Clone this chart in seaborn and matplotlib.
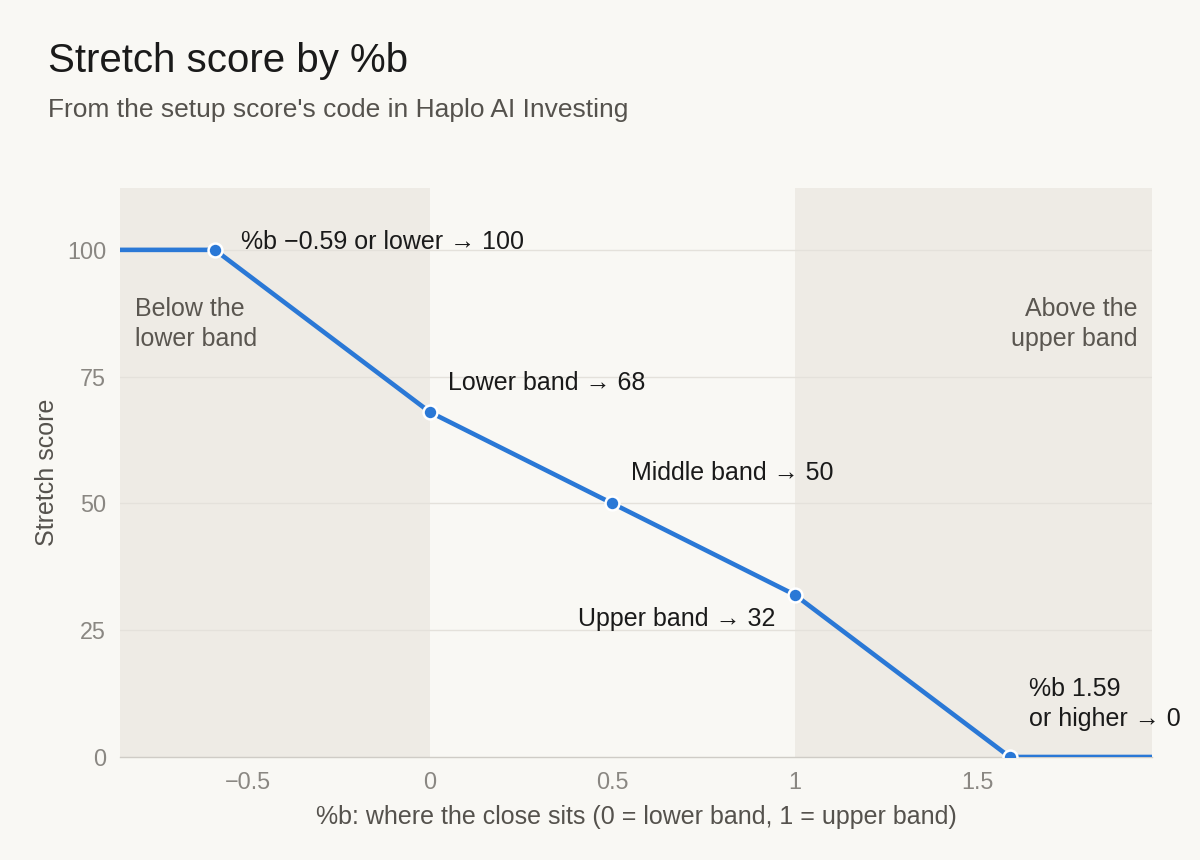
import matplotlib
matplotlib.use("Agg")
import matplotlib.pyplot as plt
import pandas as pd
import seaborn as sns

# %b breakpoints and resulting stretch score
pct_b = [-0.85, -0.59, 0.0, 0.5, 1.0, 1.59, 1.98]
score = [100, 100, 68, 50, 32, 0, 0]
marker_idx = [1, 2, 3, 4, 5]
labels = [
    "%b \u22120.59 or lower \u2192 100",
    "Lower band \u2192 68",
    "Middle band \u2192 50",
    "Upper band \u2192 32",
    "%b 1.59\nor higher \u2192 0",
]
label_offsets = [(26, 8), (18, 29), (19, 30), (-19, -24), (19, 53)]
label_ha = ["left", "left", "left", "right", "left"]
xticks = [-0.5, 0, 0.5, 1, 1.5]
xtick_labels = ["\u22120.5", "0", "0.5", "1", "1.5"]
yticks = [0, 25, 50, 75, 100]

BG = "#F9F8F4"
SHADE = "#EEEBE5"
BLUE = "#2A78D6"

sns.set_theme(style="white")
plt.rcParams["font.family"] = ["Liberation Sans", "DejaVu Sans"]

df = pd.DataFrame({"pct_b": pct_b, "score": score})
pts = df.iloc[marker_idx]

fig = plt.figure(figsize=(12, 8.6), dpi=100, facecolor=BG)
ax = fig.add_axes([0.1, 0.1198, 0.86, 0.6616])
ax.set_facecolor(BG)

xmin, xmax = pct_b[0], pct_b[-1]
ax.axvspan(xmin, 0, color=SHADE, lw=0, zorder=0)
ax.axvspan(1, xmax, color=SHADE, lw=0, zorder=0)
for yv in yticks[1:]:
    ax.axhline(yv, color="#E4E1DB", lw=1, zorder=1)

sns.lineplot(data=df, x="pct_b", y="score", color=BLUE, lw=3.3, ax=ax, zorder=3)
sns.scatterplot(data=pts, x="pct_b", y="score", color=BLUE, s=100,
                edgecolor="white", linewidth=1.8, ax=ax, zorder=4)

for (_, row), txt, off, ha in zip(pts.iterrows(), labels, label_offsets, label_ha):
    ax.annotate(txt, (row["pct_b"], row["score"]), xytext=off,
                textcoords="offset pixels", ha=ha, va="center",
                fontsize=18, color="#1A1A1A", linespacing=1.3, zorder=5)

ax.text(0.0145, 0.761, "Below the\nlower band", transform=ax.transAxes,
        ha="left", va="center", fontsize=18, color="#5A5650", linespacing=1.3)
ax.text(0.9855, 0.761, "Above the\nupper band", transform=ax.transAxes,
        ha="right", va="center", fontsize=18, color="#5A5650", linespacing=1.3)

ax.set_xlim(xmin, xmax)
ax.set_ylim(0, 112.2)
ax.set_xticks(xticks)
ax.set_xticklabels(xtick_labels)
ax.set_yticks(yticks)
ax.tick_params(axis="both", length=0, labelsize=16.8, labelcolor="#8A8782", pad=10)
for side in ["top", "right", "left"]:
    ax.spines[side].set_visible(False)
ax.spines["bottom"].set_color("#CFCCC6")
ax.spines["bottom"].set_linewidth(1)

ax.set_xlabel("%b: where the close sits (0 = lower band, 1 = upper band)",
              fontsize=18, color="#55524D", labelpad=8)
ax.set_ylabel("Stretch score", fontsize=18, color="#55524D", labelpad=6)

fig.text(0.04, 0.929, "Stretch score by %b", fontsize=29, color="#1A1A1A",
         ha="left", va="center")
fig.text(0.04, 0.872, "From the setup score's code in Haplo AI Investing",
         fontsize=19, color="#55524D", ha="left", va="center")

fig.savefig("out.png", dpi=100, facecolor=BG)
